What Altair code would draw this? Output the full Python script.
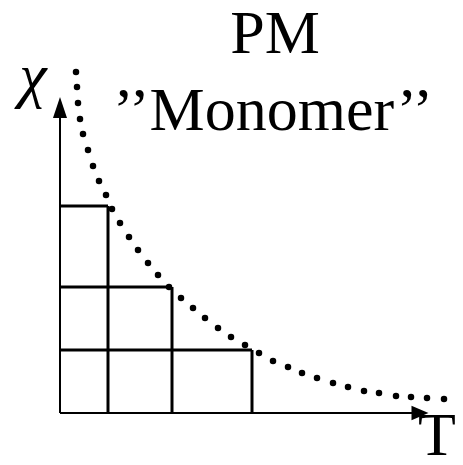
import altair as alt
import pandas as pd

# Dotted curve chi(T) (T to the right, chi upward, origin at the axes' corner)
curve_T = [16, 17, 18, 20, 23, 28, 33, 39, 46, 52, 60, 69, 78, 88, 98, 109, 121, 133, 145, 158,
           171, 185, 199, 213, 228, 242, 257, 273, 288, 304, 319, 336, 351, 367, 384]
curve_chi = [341, 326, 310, 294, 279, 263, 247, 232, 218, 204, 190, 176, 163, 150, 138, 126, 115, 105, 95, 85,
             76, 68, 60, 52, 46, 40, 35, 30, 26, 22, 20, 17, 16, 15, 14]

# Staircase boxes under the curve (corner points)
step_T = [48, 112, 192]
step_chi = [207, 126, 63]

# Axis extents
x_axis_end = 352
y_axis_end = 301

W, H = 447, 449
xdom = [-52, 395]
ydom = [-44, 405]

xs = alt.Scale(domain=xdom)
ys = alt.Scale(domain=ydom)
FONT = "Liberation Serif"

curve = pd.DataFrame({"T": curve_T, "chi": curve_chi})
dots = alt.Chart(curve).mark_circle(size=42, color="black", opacity=1).encode(
    x=alt.X("T:Q", scale=xs, axis=None),
    y=alt.Y("chi:Q", scale=ys, axis=None),
)

hlines = pd.DataFrame({"x": [0] * 3, "x2": step_T, "y": step_chi, "y2": step_chi})
vlines = pd.DataFrame({"x": step_T, "x2": step_T, "y": [0] * 3, "y2": step_chi})
grid = alt.Chart(pd.concat([hlines, vlines])).mark_rule(color="black", strokeWidth=3).encode(
    x=alt.X("x:Q", scale=xs, axis=None), x2="x2:Q",
    y=alt.Y("y:Q", scale=ys, axis=None), y2="y2:Q",
)

axes_df = pd.DataFrame({"x": [0, 0], "x2": [x_axis_end, 0], "y": [0, 0], "y2": [0, y_axis_end]})
axes = alt.Chart(axes_df).mark_rule(color="black", strokeWidth=2).encode(
    x=alt.X("x:Q", scale=xs, axis=None), x2="x2:Q",
    y=alt.Y("y:Q", scale=ys, axis=None), y2="y2:Q",
)

up_head = alt.Chart(pd.DataFrame({"T": [0], "chi": [305.5]})).mark_point(
    shape="M0,-1L0.667,1L-0.667,1Z", size=441, filled=True, color="black", opacity=1
).encode(x=alt.X("T:Q", scale=xs, axis=None), y=alt.Y("chi:Q", scale=ys, axis=None))

right_head = alt.Chart(pd.DataFrame({"T": [360], "chi": [0]})).mark_point(
    shape="M1,0L-1,-0.85L-1,0.85Z", size=289, filled=True, color="black", opacity=1
).encode(x=alt.X("T:Q", scale=xs, axis=None), y=alt.Y("chi:Q", scale=ys, axis=None))

labels = pd.DataFrame({
    "text": ["PM", "\u2019\u2019Monomer\u2019\u2019", "T"],
    "T": [215, 213, 377],
    "chi": [360, 283, -42],
})
texts = alt.Chart(labels).mark_text(
    font=FONT, fontSize=62, color="black", align="center", baseline="alphabetic"
).encode(
    x=alt.X("T:Q", scale=xs, axis=None),
    y=alt.Y("chi:Q", scale=ys, axis=None),
    text="text:N",
)

chi_label = alt.Chart(pd.DataFrame({"text": ["\u03c7"], "T": [-27], "chi": [317]})).mark_text(
    font=FONT, fontSize=62, fontStyle="italic", color="black", align="center", baseline="alphabetic"
).encode(
    x=alt.X("T:Q", scale=xs, axis=None),
    y=alt.Y("chi:Q", scale=ys, axis=None),
    text="text:N",
)

chart = alt.layer(grid, axes, up_head, right_head, dots, texts, chi_label).properties(
    width=W, height=H, padding=0, autosize=alt.AutoSizeParams(type="none"),
    background="white",
).configure_view(stroke=None)

chart.save("out.html", embed_options={"renderer": "svg", "actions": False})
